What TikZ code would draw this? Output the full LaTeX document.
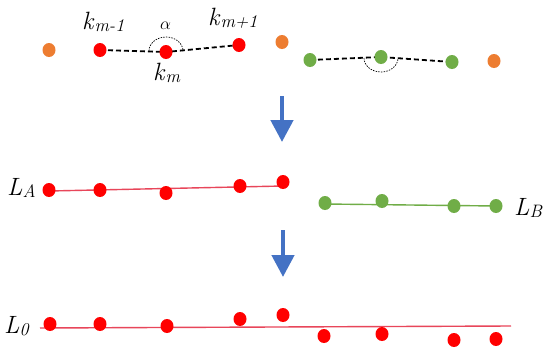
\documentclass[tikz,border=0pt]{standalone}
\usetikzlibrary{arrows.meta,shapes.geometric}
\definecolor{dred}{RGB}{255,0,0}
\definecolor{dorange}{RGB}{237,125,49}
\definecolor{dgreen}{RGB}{112,173,71}
\definecolor{dblue}{RGB}{68,114,196}
\definecolor{lred}{RGB}{232,70,90}
\newcommand{\lbl}[2]{{\fontsize{25}{25}\selectfont\textit{#1}}\raisebox{-0.2em}{\fontsize{18}{18}\selectfont\textit{#2}}}
\begin{document}
\begin{tikzpicture}[x=1pt,y=-1pt,
  dot/.style={ellipse,inner sep=0pt,minimum width=13pt,minimum height=14pt,draw=none},
  reddot/.style={dot,fill=dred},
  greendot/.style={dot,fill=dgreen},
  orangedot/.style={dot,fill=dorange},
  dashline/.style={line width=1.8pt,dash pattern=on 5pt off 3pt},
  anglearc/.style={line width=0.7pt,dash pattern=on 1.5pt off 1.2pt},
  bigarrow/.style={dblue,line width=4.5pt,-{Triangle[width=22pt,length=22pt]}},
  txt/.style={inner sep=0pt,anchor=base west}]
\useasboundingbox (0,0) rectangle (550,349);
\fill[white] (0,0) rectangle (550,349);
% ---------- top row ----------
\draw[anglearc] (149,51) arc[start angle=180,end angle=360,x radius=17,y radius=14];
\draw[anglearc] (364,58) arc[start angle=180,end angle=0,x radius=17,y radius=14];
\coordinate (t1) at (100,50);
\coordinate (t2) at (166,52);
\coordinate (t3) at (239,45);
\coordinate (g1) at (310,60);
\coordinate (g2) at (381,57);
\coordinate (g3) at (452,62);
\draw[dashline] (t1) -- (t2) -- (t3);
\draw[dashline] (g1) -- (g2) -- (g3);
\node[orangedot] (o1) at (49,50) {};
\node[reddot] (k1) at (t1) {};
\node[reddot] (k2) at (t2) {};
\node[reddot] (k3) at (t3) {};
\node[orangedot] (o2) at (282,42) {};
\node[greendot] (gg1) at (g1) {};
\node[greendot] (gg2) at (g2) {};
\node[greendot] (gg3) at (g3) {};
\node[orangedot] (o3) at (494,61) {};
\node[txt] (lk1) at (82,29) {\lbl{k}{m-1}};
\node[txt] (lk3) at (208,25) {\lbl{k}{m+1}};
\node[txt] (lk2) at (153,80) {\lbl{k}{m}};
\node[txt] (lal) at (160,29) {\fontsize{17}{17}\selectfont$\alpha$};
% ---------- arrows ----------
\coordinate (a1s) at (282,96);
\coordinate (a1e) at (282,142);
\coordinate (a2s) at (283,230);
\coordinate (a2e) at (283,277);
\draw[bigarrow] (a1s) -- (a1e);
\draw[bigarrow] (a2s) -- (a2e);
% ---------- middle row ----------
\coordinate (la1) at (49,191);
\coordinate (la2) at (283,186);
\coordinate (lb1) at (325,204);
\coordinate (lb2) at (496,206);
\draw[lred,line width=1.4pt] (la1) -- (la2);
\draw[dgreen,line width=1.4pt] (lb1) -- (lb2);
\node[reddot] (m1) at (49,190) {};
\node[reddot] (m2) at (100,190) {};
\node[reddot] (m3) at (166,193) {};
\node[reddot] (m4) at (240,186) {};
\node[reddot] (m5) at (283,182) {};
\node[greendot] (n1) at (325,203) {};
\node[greendot] (n2) at (382,201) {};
\node[greendot] (n3) at (454,206) {};
\node[greendot] (n4) at (496,206) {};
\node[txt] (lA) at (7,195) {\lbl{L}{A}};
\node[txt] (lB) at (514,215) {\lbl{L}{B}};
% ---------- bottom row ----------
\coordinate (l01) at (40,328);
\coordinate (l02) at (511,326);
\draw[lred,line width=1.4pt] (l01) -- (l02);
\node[reddot] (b1) at (50,324) {};
\node[reddot] (b2) at (100,324) {};
\node[reddot] (b3) at (167,326) {};
\node[reddot] (b4) at (240,319) {};
\node[reddot] (b5) at (283,315) {};
\node[reddot] (b6) at (324,336) {};
\node[reddot] (b7) at (382,334) {};
\node[reddot] (b8) at (454,340) {};
\node[reddot] (b9) at (496,339) {};
\node[txt] (l0) at (4,333) {\lbl{L}{0}};
\end{tikzpicture}
\end{document}
